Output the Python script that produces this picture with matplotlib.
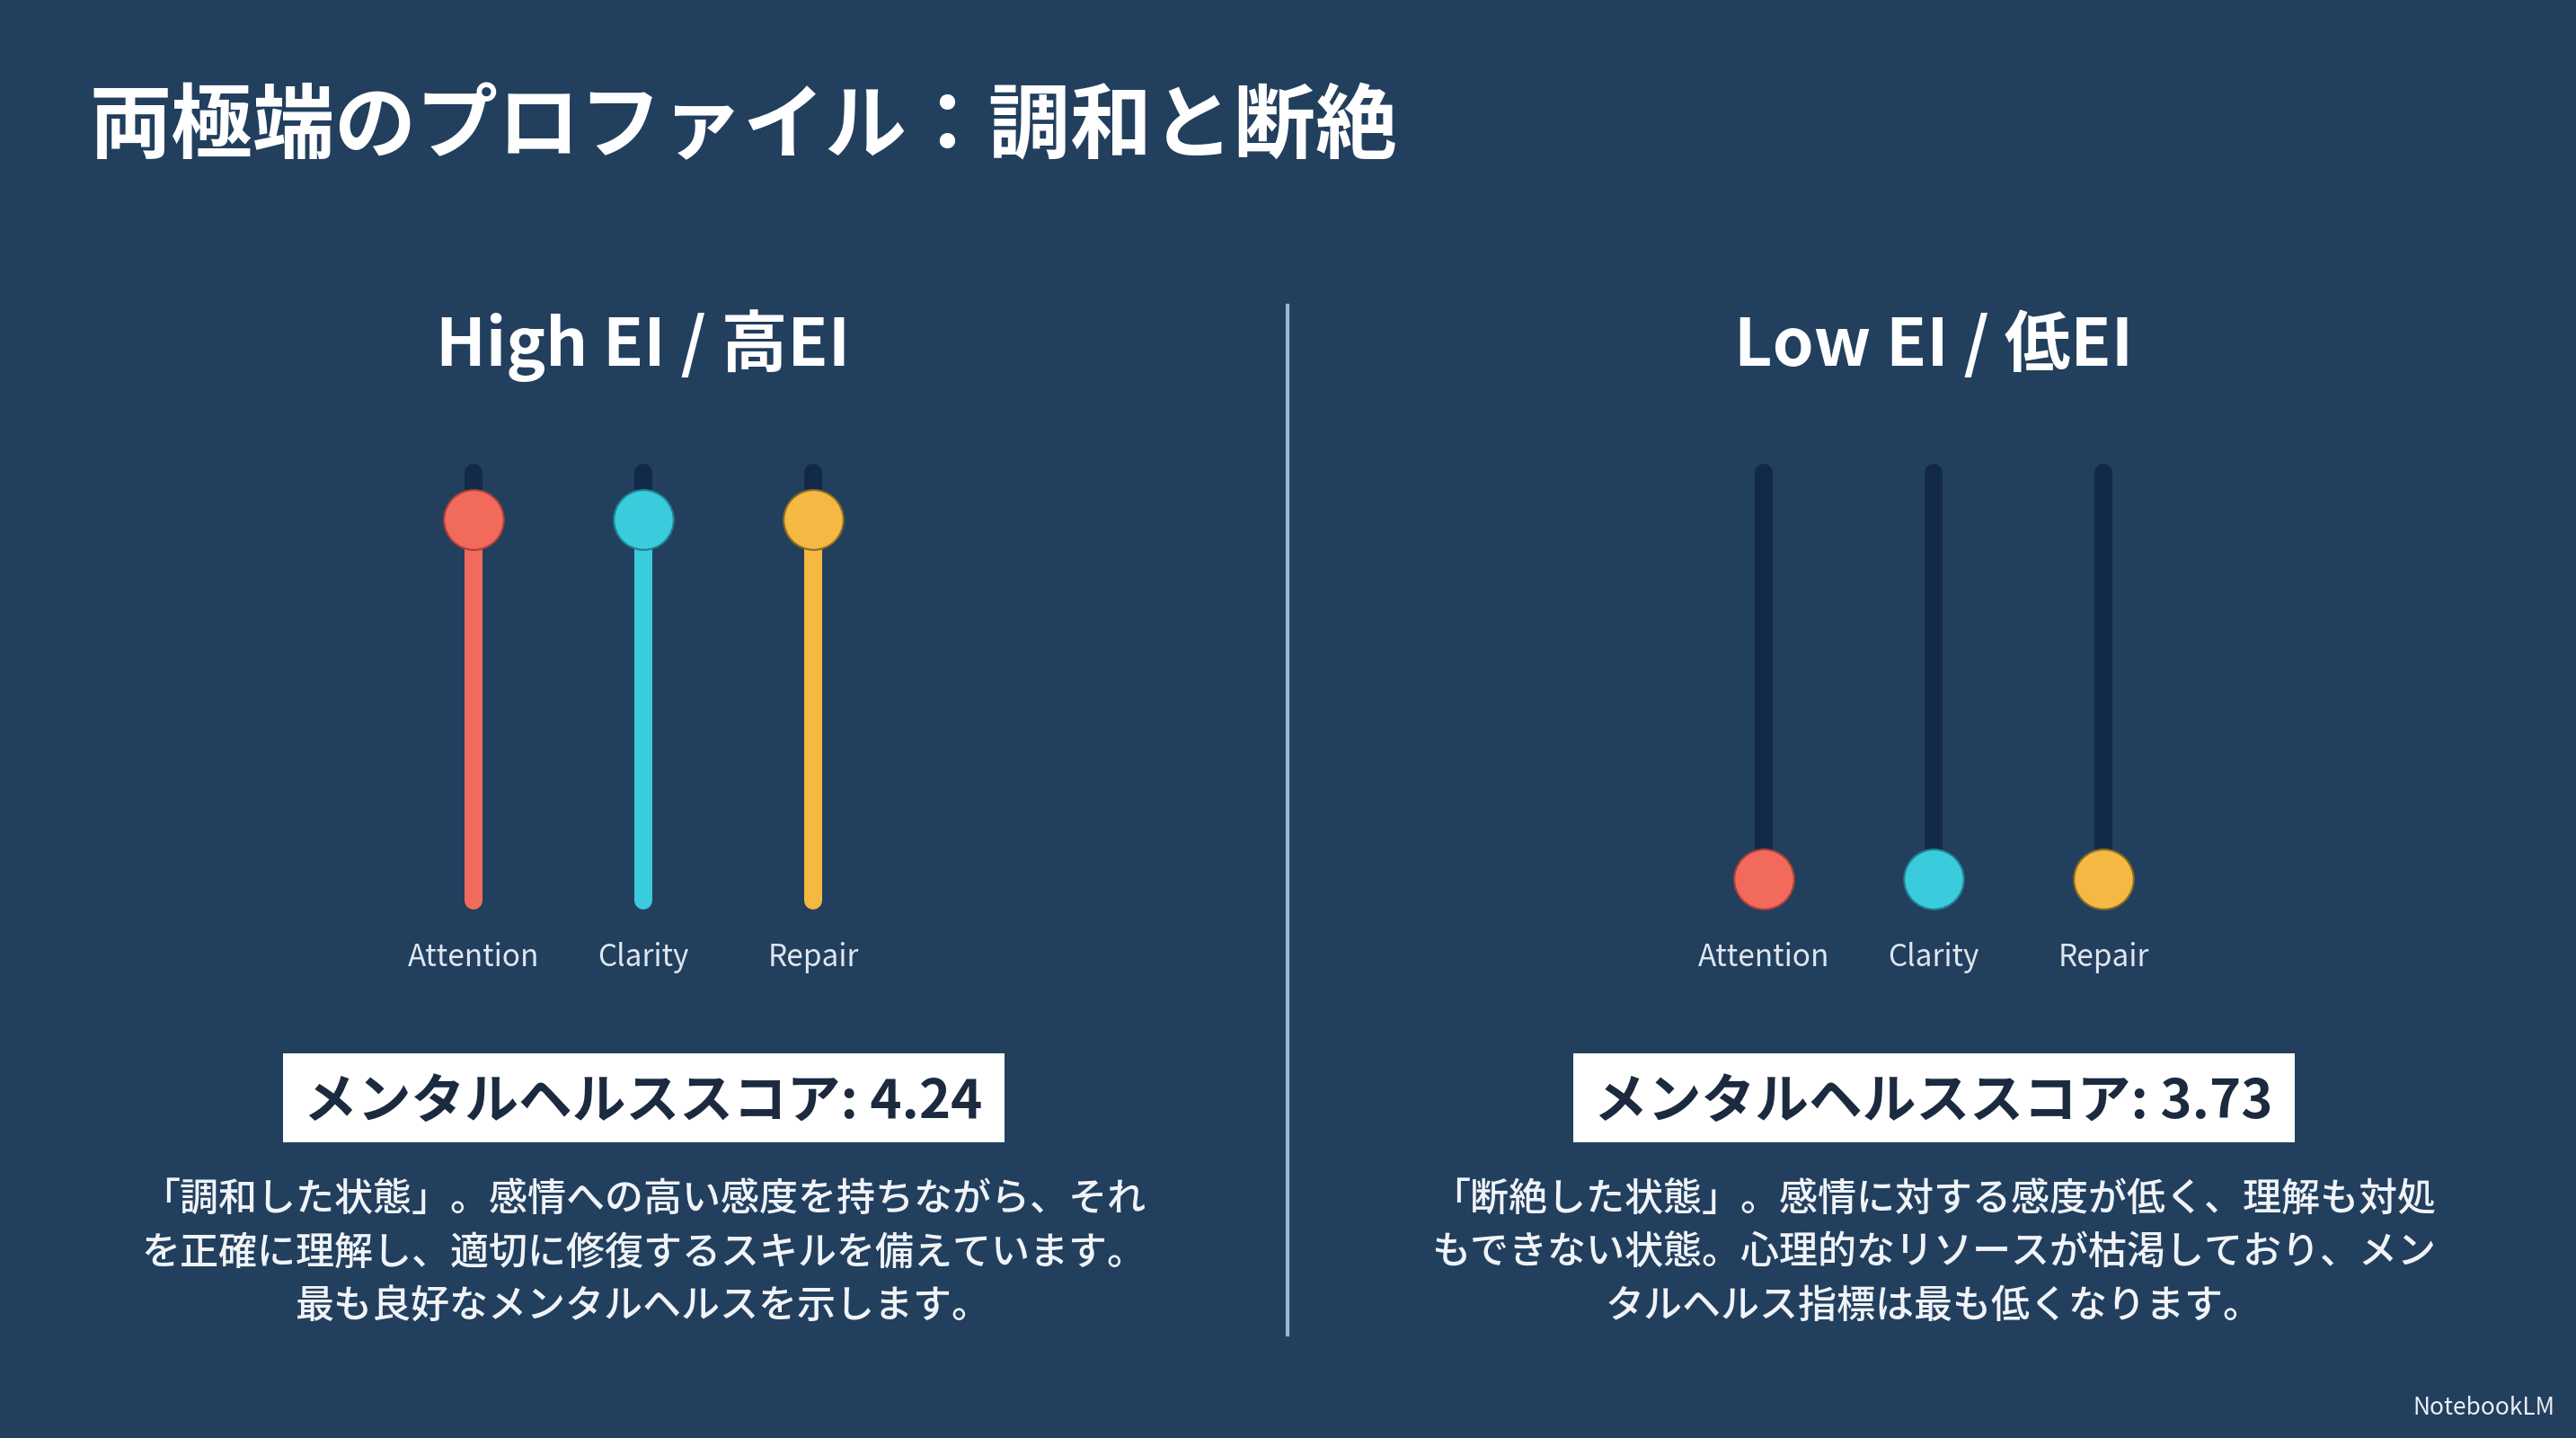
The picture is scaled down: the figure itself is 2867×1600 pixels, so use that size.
import matplotlib
matplotlib.use("Agg")
import matplotlib.pyplot as plt
from matplotlib.patches import Rectangle
from matplotlib.lines import Line2D

plt.rcParams['font.family'] = ['Noto Sans CJK JP', 'DejaVu Sans']

# --- data ---
title = "両極端のプロファイル：調和と断絶"
categories = ["Attention", "Clarity", "Repair"]
panel_titles = ["High EI / 高EI", "Low EI / 低EI"]
high_ei = [0.89, 0.89, 0.89]
low_ei = [0.05, 0.05, 0.05]
scores = [4.24, 3.73]
desc_high = ["「調和した状態」。感情への高い感度を持ちながら、それ",
             "を正確に理解し、適切に修復するスキルを備えています。",
             "最も良好なメンタルヘルスを示します。"]
desc_low = ["「断絶した状態」。感情に対する感度が低く、理解も対処",
            "もできない状態。心理的なリソースが枯渇しており、メン",
            "タルヘルス指標は最も低くなります。"]
colors = ["#f26a5b", "#3acbdc", "#f4b843"]
edge_colors = ["#a8413a", "#1f7f8e", "#8a6a22"]

BG = "#223f5e"
TRACK = "#13294a"
W, H = 2867, 1600

fig = plt.figure(figsize=(W / 100, H / 100), dpi=100, facecolor=BG)


def fx(x):
    return x / W


def fy(y):
    return 1 - y / H


# title
fig.text(fx(100), fy(142), title, size=65.5, weight='bold', color='white',
         ha='left', va='center')

# divider
fig.add_artist(Line2D([fx(1433), fx(1433)], [fy(340), fy(1485)],
                      color='#9fb6cf', lw=3))

step = 189
panels = [(716, high_ei, panel_titles[0], scores[0], desc_high),
          (2152, low_ei, panel_titles[1], scores[1], desc_low)]

for cx, values, ptitle, score, desc in panels:
    fig.text(fx(cx), fy(385), ptitle, size=53, weight='bold', color='white',
             ha='center', va='center')

    ax = fig.add_axes([fx(cx - 2 * step), fy(1002), 4 * step / W, 476 / H])
    ax.set_facecolor('none')
    ax.set_xlim(-1, 3)
    ax.set_ylim(0, 1)
    for sp in ax.spines.values():
        sp.set_visible(False)
    ax.set_yticks([])
    ax.set_xticks(range(len(categories)), categories)
    ax.tick_params(axis='x', length=0, pad=33, labelsize=24,
                   labelcolor='#dfe6ee')

    for i, v in enumerate(values):
        ax.plot([i, i], [0, 1], color=TRACK, lw=14.4, solid_capstyle='round',
                clip_on=False, zorder=1)
        ax.plot([i, i], [0, v], color=colors[i], lw=14.4,
                solid_capstyle='round', clip_on=False, zorder=2)
        ax.plot(i, v, 'o', ms=48, mfc=colors[i], mec=edge_colors[i], mew=1.5,
                clip_on=False, zorder=3)

    # score box
    fig.add_artist(Rectangle((fx(cx - 401), fy(1271)), 803 / W, 99 / H,
                             transform=fig.transFigure, facecolor='white',
                             edgecolor='none'))
    fig.text(fx(cx), fy(1227), f"メンタルヘルススコア: {score:.2f}", size=43,
             weight='bold', color='#1b2a3f', ha='center', va='center')

    for k, line in enumerate(desc):
        fig.text(fx(cx), fy(1335 + k * 59), line, size=31, weight='medium',
                 color='#f0f3f7', ha='center', va='center')

fig.text(fx(2843), fy(1566), "NotebookLM", size=19, color='#e8edf3',
         ha='right', va='center')

fig.savefig("out.png", dpi=100, facecolor=BG)
